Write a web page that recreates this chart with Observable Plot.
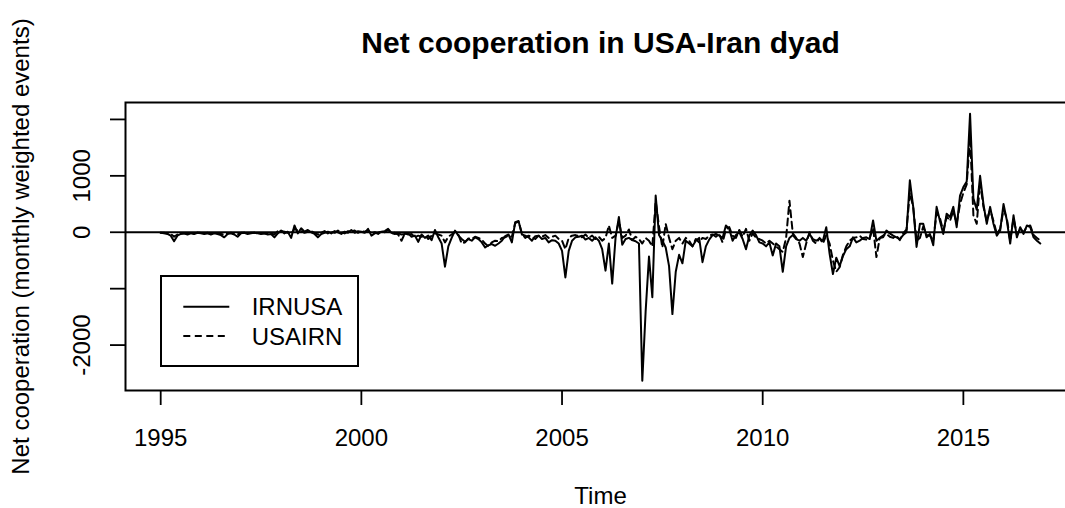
<!DOCTYPE html>
<html><head><meta charset="utf-8">
<script src="https://cdn.jsdelivr.net/npm/d3@7"></script>
<script src="https://cdn.jsdelivr.net/npm/@observablehq/plot@0.6"></script>
<style>
html,body{margin:0;padding:0;background:#fff;}
#wrap{position:relative;width:1065px;height:508px;overflow:hidden;font-family:"Liberation Sans",Arial,sans-serif;}
#legend{position:absolute;left:160px;top:275px;width:195px;height:88px;border:2px solid #000;background:#fff;}
#legend svg{display:block}
</style></head><body><div id="wrap"></div>
<script>
const startYear = 1995;
const seriesNames = ["IRNUSA", "USAIRN"];
// monthly values, Jan 1995 .. Dec 2016, one row per year
const irnusa = [
  -10,-20,-30,-60,-160,-60,-30,-20,-40,-20,-30,-10,
  -20,-30,-10,-40,-20,-30,-50,-90,-30,-20,-40,-80,
  -20,-10,-30,-20,-10,-20,-30,-20,-40,-30,-90,-20,
  30,-20,10,-100,120,-20,70,10,40,0,-30,-90,
  -30,-10,10,-20,20,0,-30,10,-10,40,-10,20,
  10,-10,60,-60,-20,-10,10,20,60,-10,-30,-20,
  -40,-30,-20,-80,-60,-170,-40,-100,-60,-140,40,-90,
  -200,-610,-250,-100,30,-60,-120,-170,-120,-150,-90,-120,
  -180,-270,-230,-210,-240,-200,-150,-70,-40,-180,180,200,
  -40,-60,-90,-150,-70,-60,-120,-100,-180,-140,-150,-200,
  -330,-800,-330,-150,-90,-80,-60,-130,-100,-150,-90,-150,
  -300,-680,-200,-910,-100,270,-220,-120,-100,-140,-160,-200,
  -2630,-1400,-430,-1150,650,-50,-150,-270,-600,-1450,-700,-400,
  -550,-150,-200,-250,-150,-100,-530,-250,-130,-50,-30,-60,
  -100,120,60,-150,-50,0,-120,-300,-60,30,-50,-180,
  -200,-250,-180,-410,-200,-250,-700,-250,-100,-50,-120,-150,
  -100,-150,-30,-120,-150,-110,-150,90,-380,-740,-450,-600,
  -420,-300,-250,-90,-180,-150,-100,-90,-120,210,-150,-100,
  -90,30,-20,-60,-90,-120,-50,0,920,450,-260,150,
  150,-90,-30,-230,450,200,-30,330,270,450,90,650,
  800,900,2100,600,400,1000,500,150,450,150,-60,30,
  500,210,-200,300,-90,90,-30,120,90,-90,-150,-200
];
const usairn = [
  -10,-10,-20,-30,-80,-40,-20,-20,-30,-20,-20,-10,
  -10,-20,-20,-30,-10,-20,-30,-40,-20,-10,-30,-40,
  -10,-10,-20,-10,-10,-20,-20,-20,-30,-20,-40,20,
  20,10,-10,-30,60,30,20,-10,10,20,-10,-40,
  -10,20,-20,10,-10,30,0,-20,20,10,30,-10,
  20,10,30,-20,0,-30,20,0,40,-20,-10,-40,
  -150,-20,-40,-30,-90,-60,-80,-50,-120,-60,-20,-40,
  -60,-180,-80,-40,10,-40,-200,-180,-110,-120,-80,-100,
  -130,-200,-250,-180,-150,-160,-100,-90,-60,-80,160,190,
  -20,-100,-60,-80,-120,-60,-80,-50,-100,-80,-60,-120,
  -150,-300,-100,-60,-50,-70,-90,-40,-100,-60,-120,-80,
  -150,-100,120,-100,-60,200,-100,-60,50,-140,-80,-120,
  -200,-100,-150,-250,550,100,-270,150,-100,-300,-150,-100,
  -200,-100,-150,-250,-120,-180,-100,-120,-60,-40,-80,-30,
  -180,50,90,-60,-100,40,-80,60,-150,-20,-100,-120,
  -150,-200,-150,-200,-250,-300,-350,-100,560,-20,-100,-200,
  -440,-200,0,-150,-200,-100,-200,-50,-200,-500,-700,-620,
  -400,-250,-150,-100,-90,-60,-120,-130,-100,80,-440,-100,
  -60,-30,-80,-100,-60,-140,-20,50,700,450,-150,-100,
  100,-50,-60,-150,350,250,20,280,200,380,150,500,
  700,850,1700,300,150,900,450,200,400,200,-30,60,
  400,250,-150,250,-50,60,0,100,120,-50,-100,-150
];
const xTicks = [1995, 2000, 2005, 2010, 2015];
const yTicks = [2000, 1000, 0, -1000, -2000];
const yTickLabels = [1000, 0, -2000];
const titleText = "Net cooperation in USA-Iran dyad";
const xLabel = "Time";
const yLabel = "Net cooperation (monthly weighted events)";

const toRows = (vals, name) => vals.map((v, i) => ({t: startYear + i / 12, v, s: name}));
const rowsIRN = toRows(irnusa, seriesNames[0]);
const rowsUSA = toRows(usairn, seriesNames[1]);

const font = "Liberation Sans, Arial, Helvetica, sans-serif";
const chart = Plot.plot({
  width: 1065, height: 508,
  marginLeft: 125, marginRight: -10, marginTop: 102, marginBottom: 118,
  style: {fontFamily: font, fontSize: "24px", background: "white", overflow: "hidden", color: "black"},
  x: {domain: [1994.123, 2017.794]},
  y: {domain: [-2805, 2300]},
  marks: [
    Plot.ruleY([0], {stroke: "black", strokeWidth: 2}),
    Plot.line(rowsUSA, {x: "t", y: "v", stroke: "black", strokeWidth: 2, strokeDasharray: "7,4.5"}),
    Plot.line(rowsIRN, {x: "t", y: "v", stroke: "black", strokeWidth: 2}),
    Plot.frame({stroke: "black", strokeWidth: 2}),
    Plot.axisX({ticks: xTicks, tickSize: 15, tickPadding: 23.5, tickFormat: d => String(d), label: null, fontSize: 24, strokeWidth: 1.8}),
    Plot.axisY({ticks: yTicks, tickSize: 15, tickFormat: () => "", label: null, strokeWidth: 1.8}),
    Plot.text(yTickLabels, {y: d => d, text: d => String(d), frameAnchor: "left", textAnchor: "middle", lineAnchor: "middle", dx: -42.7, rotate: -90, fontSize: 24}),
    Plot.text([xLabel], {text: d => d, frameAnchor: "bottom", textAnchor: "middle", lineAnchor: "middle", dy: 105.6, fontSize: 24}),
    Plot.text([yLabel], {text: d => d, frameAnchor: "left", textAnchor: "middle", lineAnchor: "middle", dx: -104.4, rotate: -90, fontSize: 24}),
    Plot.text([titleText], {text: d => d, frameAnchor: "top", textAnchor: "middle", lineAnchor: "middle", dy: -59.3, fontSize: 30, fontWeight: "bold"})
  ]
});
const wrap = document.getElementById("wrap");
wrap.appendChild(chart);

// legend (R-style box, bottom-left inside plot)
const leg = document.createElement("div");
leg.id = "legend";
const ns = "http://www.w3.org/2000/svg";
const ls = document.createElementNS(ns, "svg");
ls.setAttribute("width", 195); ls.setAttribute("height", 88);
seriesNames.forEach((name, k) => {
  const cy = 29.7 + k * 29.3;
  const ln = document.createElementNS(ns, "line");
  ln.setAttribute("x1", 21.3); ln.setAttribute("x2", 67.3);
  ln.setAttribute("y1", cy); ln.setAttribute("y2", cy);
  ln.setAttribute("stroke", "black"); ln.setAttribute("stroke-width", 2);
  if (k === 1) ln.setAttribute("stroke-dasharray", "7,4.5");
  ls.appendChild(ln);
  const tx = document.createElementNS(ns, "text");
  tx.setAttribute("x", 89.7); tx.setAttribute("y", cy + 8.6);
  tx.setAttribute("font-family", font); tx.setAttribute("font-size", 24);
  tx.textContent = name;
  ls.appendChild(tx);
});
leg.appendChild(ls);
wrap.appendChild(leg);
</script></body></html>
